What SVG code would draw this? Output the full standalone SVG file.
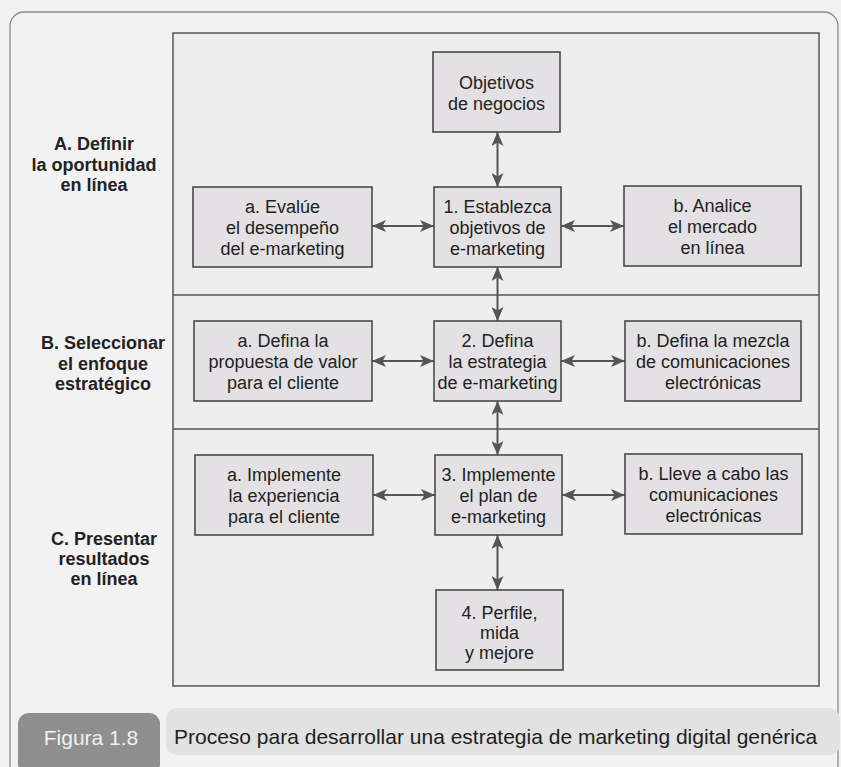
<svg xmlns="http://www.w3.org/2000/svg" width="841" height="767" viewBox="0 0 841 767">
<style>
.box{fill:#e3e1e3;stroke:#4a4a4a;stroke-width:1.6}
.t{font-family:"Liberation Sans",Arial,sans-serif;font-size:18px;fill:#222;text-anchor:middle}
.lbl{font-family:"Liberation Sans",Arial,sans-serif;font-size:18px;font-weight:bold;fill:#222;text-anchor:middle}
.cap{font-family:"Liberation Sans",Arial,sans-serif;font-size:21px}
.con{stroke:#555;stroke-width:2;fill:none;marker-start:url(#ah);marker-end:url(#ah)}
.div{stroke:#555;stroke-width:1.4}
</style>
<defs>
<marker id="ah" viewBox="0 0 14 12" markerWidth="14" markerHeight="12" refX="14" refY="6" orient="auto-start-reverse" markerUnits="userSpaceOnUse">
<path d="M0,0 L14,6 L0,12 L3.5,6 z" fill="#555"/>
</marker>
</defs>
<rect x="0" y="0" width="841" height="767" fill="#f3f2f3"/>
<rect x="10" y="12" width="828" height="772" rx="14" fill="none" stroke="#8a8a8a" stroke-width="1.3"/>
<g id="frame">
<rect x="173" y="33" width="646" height="653" fill="#efeeef" stroke="#555" stroke-width="1.5"/>
<line class="div" x1="173" y1="295" x2="819" y2="295"/>
<line class="div" x1="173" y1="429" x2="819" y2="429"/>
</g>
<g id="labelA">
<text class="lbl" x="94" y="150">A. Definir</text>
<text class="lbl" x="94" y="170.5">la oportunidad</text>
<text class="lbl" x="94" y="191">en línea</text>
</g>
<g id="labelB">
<text class="lbl" x="103" y="349">B. Seleccionar</text>
<text class="lbl" x="103" y="369.5">el enfoque</text>
<text class="lbl" x="103" y="390">estratégico</text>
</g>
<g id="labelC">
<text class="lbl" x="104" y="545">C. Presentar</text>
<text class="lbl" x="104" y="565">resultados</text>
<text class="lbl" x="104" y="585">en línea</text>
</g>
<g id="connectors">
<line class="con" x1="497.5" y1="132" x2="497.5" y2="187"/>
<line class="con" x1="497.5" y1="267" x2="497.5" y2="321"/>
<line class="con" x1="497.5" y1="401" x2="497.5" y2="455"/>
<line class="con" x1="497.5" y1="535" x2="497.5" y2="590"/>
<line class="con" x1="372" y1="226" x2="434" y2="226"/>
<line class="con" x1="561" y1="226" x2="624" y2="226"/>
<line class="con" x1="372" y1="361" x2="434" y2="361"/>
<line class="con" x1="561" y1="361" x2="625" y2="361"/>
<line class="con" x1="373" y1="495" x2="435" y2="495"/>
<line class="con" x1="562" y1="495" x2="625" y2="495"/>
</g>
<g id="objetivos">
<rect class="box" x="433" y="52" width="127" height="80"/>
<text class="t" x="496.5" y="88.5">Objetivos</text>
<text class="t" x="496.5" y="109.5">de negocios</text>
</g>
<g id="a1">
<rect class="box" x="193" y="187" width="179" height="80"/>
<text class="t" x="282.5" y="213">a. Evalúe</text>
<text class="t" x="282.5" y="234">el desempeño</text>
<text class="t" x="282.5" y="255">del e-marketing</text>
</g>
<g id="n1">
<rect class="box" x="434" y="187" width="127" height="80"/>
<text class="t" x="497.5" y="213">1. Establezca</text>
<text class="t" x="497.5" y="234">objetivos de</text>
<text class="t" x="497.5" y="255">e-marketing</text>
</g>
<g id="b1">
<rect class="box" x="624" y="186" width="177" height="80"/>
<text class="t" x="712.5" y="212">b. Analice</text>
<text class="t" x="712.5" y="233">el mercado</text>
<text class="t" x="712.5" y="254">en línea</text>
</g>
<g id="a2">
<rect class="box" x="194" y="321" width="178" height="80"/>
<text class="t" x="283" y="347">a. Defina la</text>
<text class="t" x="283" y="368">propuesta de valor</text>
<text class="t" x="283" y="389">para el cliente</text>
</g>
<g id="n2">
<rect class="box" x="434" y="321" width="127" height="80"/>
<text class="t" x="497.5" y="347">2. Defina</text>
<text class="t" x="497.5" y="368">la estrategia</text>
<text class="t" x="497.5" y="389">de e-marketing</text>
</g>
<g id="b2">
<rect class="box" x="625" y="321" width="176" height="80"/>
<text class="t" x="713" y="347">b. Defina la mezcla</text>
<text class="t" x="713" y="368">de comunicaciones</text>
<text class="t" x="713" y="389">electrónicas</text>
</g>
<g id="a3">
<rect class="box" x="195" y="455" width="178" height="80"/>
<text class="t" x="284" y="481">a. Implemente</text>
<text class="t" x="284" y="502">la experiencia</text>
<text class="t" x="284" y="523">para el cliente</text>
</g>
<g id="n3">
<rect class="box" x="435" y="455" width="127" height="80"/>
<text class="t" x="498.5" y="481">3. Implemente</text>
<text class="t" x="498.5" y="502">el plan de</text>
<text class="t" x="498.5" y="523">e-marketing</text>
</g>
<g id="b3">
<rect class="box" x="625" y="454" width="177" height="80"/>
<text class="t" x="713.5" y="480">b. Lleve a cabo las</text>
<text class="t" x="713.5" y="501">comunicaciones</text>
<text class="t" x="713.5" y="522">electrónicas</text>
</g>
<g id="n4">
<rect class="box" x="436" y="590" width="127" height="80"/>
<text class="t" x="499.5" y="619">4. Perfile,</text>
<text class="t" x="499.5" y="639">mida</text>
<text class="t" x="499.5" y="659">y mejore</text>
</g>
<g id="caption">
<rect x="18" y="713" width="142" height="62" rx="11" fill="#8f8f8f"/>
<text class="cap" x="91" y="745" fill="#f0f0f0" text-anchor="middle">Figura 1.8</text>
<rect x="166" y="708" width="674" height="47" rx="11" fill="#e2e2e2"/>
<text class="cap" x="174" y="744" fill="#1e1e1e">Proceso para desarrollar una estrategia de marketing digital genérica</text>
</g>
</svg>
